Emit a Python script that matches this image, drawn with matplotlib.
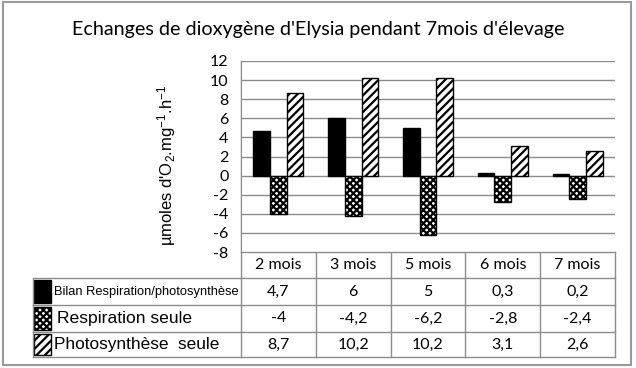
import numpy as np
import matplotlib
matplotlib.use("Agg")
import matplotlib.pyplot as plt
from matplotlib.patches import Rectangle

mois = ["2 mois", "3 mois", "5 mois", "6 mois", "7 mois"]
bilan = [4.7, 6, 5, 0.3, 0.2]
respiration = [-4, -4.2, -6.2, -2.8, -2.4]
photosynthese = [8.7, 10.2, 10.2, 3.1, 2.6]
series_labels = ["Bilan Respiration/photosynthèse", "Respiration seule", "Photosynthèse  seule"]
y_ticks = list(range(-8, 13, 2))

plt.rcParams["mathtext.fontset"] = "custom"
plt.rcParams["mathtext.rm"] = "Liberation Sans"
plt.rcParams["mathtext.it"] = "Liberation Sans"
plt.rcParams["hatch.linewidth"] = 1.6

W, H = 636, 368
fig = plt.figure(figsize=(W / 100, H / 100), dpi=100)

# pixel overlay for frame and table
ov = fig.add_axes([0, 0, 1, 1])
ov.set_xlim(0, W)
ov.set_ylim(H, 0)
ov.axis("off")

grid_c = "#8c8c8c"
ov.add_patch(Rectangle((3, 2), 628, 363, fill=False, ec="#9a9a9a", lw=1.5))

# main plot area: x 241..615, y 61 (12) .. 252 (-8)
left, right, top, bottom = 241, 615, 61, 252
ax = fig.add_axes([left / W, 1 - bottom / H, (right - left) / W, (bottom - top) / H])
ax.set_ylim(-8, 12)
ax.set_xlim(-0.5, len(mois) - 0.5)
ax.set_yticks(y_ticks)
ax.set_yticklabels([str(t) for t in y_ticks], fontfamily="Lato", fontsize=11.5)
ax.tick_params(axis="y", length=0, pad=9)
ax.set_xticks([])
ax.yaxis.grid(True, color=grid_c, lw=1)
ax.set_axisbelow(True)
for s in ["top", "right", "bottom"]:
    ax.spines[s].set_visible(False)
ax.spines["left"].set_color(grid_c)

resp_hatch = "xxxxx"
x = np.arange(len(mois))
w = 0.222
ax.bar(x - w, bilan, w, color="black", ec="black", lw=1, zorder=3)
ax.bar(x, respiration, w, color="white", ec="black", lw=1, hatch=resp_hatch, zorder=3)
ax.bar(x + w, photosynthese, w, color="white", ec="black", lw=1, hatch="////", zorder=3)

fig.text(167 / W, 1 - 165 / H, "µmoles d'O$_2$.mg$^{-1}$.h$^{-1}$", rotation=90,
         ha="center", va="center", fontfamily="Liberation Sans", fontsize=12)

fig.text(318 / W, 1 - 30 / H, "Echanges de dioxygène d'Elysia pendant 7mois d'élevage",
         ha="center", va="center", fontfamily="Lato", fontsize=14.2)

# data table
col_w = (right - left) / len(mois)
row_y = [252, 278, 305, 332, 357]
tab_left = 33
ov.plot([left, left], [top, row_y[-1]], color=grid_c, lw=1)
ov.plot([left, right], [row_y[0], row_y[0]], color=grid_c, lw=1)
for yy in row_y[1:]:
    ov.plot([tab_left, right], [yy, yy], color=grid_c, lw=1)
ov.plot([tab_left, tab_left], [row_y[1], row_y[-1]], color=grid_c, lw=1)
for i in range(1, len(mois) + 1):
    ov.plot([left + i * col_w] * 2, [row_y[0], row_y[-1]], color=grid_c, lw=1)

for i, m in enumerate(mois):
    ov.text(left + (i + 0.5) * col_w, (row_y[0] + row_y[1]) / 2, m,
            ha="center", va="center", fontfamily="Lato", fontsize=11.5)

rows = [bilan, respiration, photosynthese]
keys = [dict(fc="black", hatch=None), dict(fc="white", hatch=resp_hatch), dict(fc="white", hatch="////")]
label_sizes = [9.3, 12.6, 12.4]
for r, vals in enumerate(rows):
    yc = (row_y[r + 1] + row_y[r + 2]) / 2
    for i, v in enumerate(vals):
        ov.text(left + (i + 0.5) * col_w, yc, str(v).replace(".", ","),
                ha="center", va="center", fontfamily="Lato", fontsize=11.5)
    ov.add_patch(Rectangle((tab_left + 1, row_y[r + 1] + 2), 17, row_y[r + 2] - row_y[r + 1] - 4,
                           fc=keys[r]["fc"], ec="black", lw=1, hatch=keys[r]["hatch"]))
    ov.text(tab_left + 20 + (4 if r == 1 else 1), yc, series_labels[r], ha="left", va="center",
            fontfamily="Liberation Sans", fontsize=label_sizes[r])

fig.savefig("out.png", dpi=100)
